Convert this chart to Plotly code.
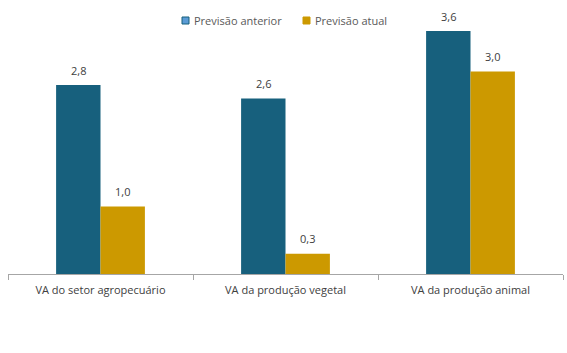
import plotly.graph_objects as go

categories = ["VA do setor agropecuário", "VA da produção vegetal", "VA da produção animal"]
series_names = ["Previsão anterior", "Previsão atual"]
previsao_anterior = [2.8, 2.6, 3.6]
previsao_atual = [1.0, 0.3, 3.0]

bar_colors = ["#17607D", "#CC9900"]
legend_fill = ["#5B9BD5", "#CC9900"]
legend_line = ["#17607D", "#CC9900"]

W, H = 567, 353
ML, MR, MT, MB = 8, 4, 4, 79
PW, PH = W - ML - MR, H - MT - MB

def px_x(x):
    return (x - ML) / PW

def px_y(y):
    return (H - MB - y) / PH

def fmt(v):
    return f"{v:.1f}".replace(".", ",")

fig = go.Figure()
series = [previsao_anterior, previsao_atual]
offsets = [-0.12, 0.12]
for name, vals, col in zip(series_names, series, bar_colors):
    fig.add_trace(go.Bar(
        x=categories, y=vals, name=name, showlegend=False,
        marker=dict(color=col, line=dict(width=0)),
        hoverinfo="x+y",
    ))

# value labels
for si, vals in enumerate(series):
    for ci, v in enumerate(vals):
        fig.add_annotation(
            x=ci + offsets[si], y=v, xref="x", yref="y",
            text=fmt(v), showarrow=False, yanchor="middle", yshift=15,
            font=dict(family="Open Sans", size=11, color="#404040"),
        )

# legend (manual, to reproduce small squares)
legend_sq_x = [182, 303]
legend_txt_x = [192, 313]
for name, fc, lc, sx, tx in zip(series_names, legend_fill, legend_line, legend_sq_x, legend_txt_x):
    fig.add_shape(
        type="rect", xref="paper", yref="paper",
        x0=px_x(sx), x1=px_x(sx + 7), y0=px_y(24), y1=px_y(17),
        fillcolor=fc, line=dict(color=lc, width=1),
    )
    fig.add_annotation(
        x=px_x(tx), y=px_y(20.5), xref="paper", yref="paper",
        text=name, showarrow=False, xanchor="left", yanchor="middle",
        font=dict(family="Open Sans", size=11, color="#595959"),
    )

fig.update_layout(
    width=W, height=H,
    margin=dict(l=ML, r=MR, t=MT, b=MB),
    paper_bgcolor="white", plot_bgcolor="white",
    barmode="group", bargap=0.52, bargroupgap=0,
    showlegend=False,
    font=dict(family="Open Sans", size=11, color="#404040"),
    xaxis=dict(
        type="category", showgrid=False, showline=True, linecolor="#A6A6A6", linewidth=1,
        ticks="outside", tickson="boundaries", ticklen=5, tickcolor="#A6A6A6",
        ticklabelstandoff=6,
        tickfont=dict(family="Open Sans", size=11, color="#404040"),
    ),
    yaxis=dict(range=[0, 4], visible=False, showgrid=False, zeroline=False),
)

fig.write_html("out.html")
